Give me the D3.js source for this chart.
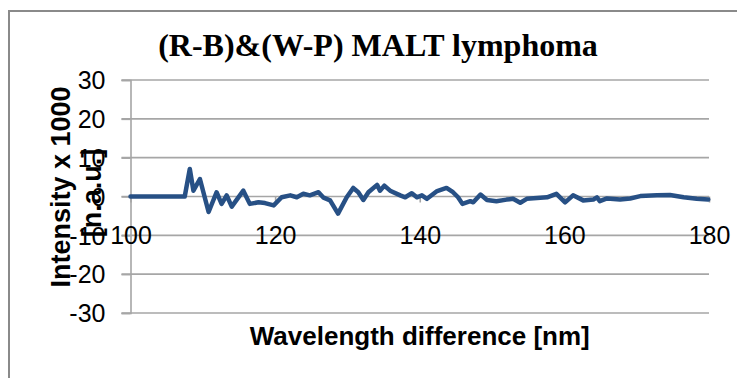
<!DOCTYPE html>
<html>
<head>
<meta charset="utf-8">
<script src="https://cdn.jsdelivr.net/npm/d3@7"></script>
<style>
  html, body { margin: 0; padding: 0; background: #fff; }
  svg { display: block; }
</style>
</head>
<body>
<svg id="chart" width="737" height="378"></svg>
<script>
// Difference spectrum (R-B)&(W-P), MALT lymphoma
const wavelengthDiff = [
  100, 102, 104, 106, 107.5, 108.2, 108.7, 109.6, 110.8, 111.9, 112.6, 113.3, 114.0,
  115.6, 116.5, 117.7, 118.6, 119.8, 120.9, 122.1, 123.0, 123.9, 124.8, 126.0, 126.7,
  127.6, 128.7, 129.9, 130.8, 131.5, 132.2, 132.9, 134.1, 134.5, 135.1, 135.9, 137.3,
  138.0, 138.9, 139.6, 140.3, 141.0, 142.4, 143.7, 144.6, 145.3, 145.9, 147.0, 147.4,
  148.4, 149.3, 150.6, 152.0, 152.9, 153.9, 154.8, 156.2, 157.6, 158.9, 160.1, 161.2,
  162.6, 164.0, 164.5, 164.9, 165.9, 167.7, 169.1, 170.5, 172.8, 174.6, 176.5, 178.3, 179.9
];
const intensity = [
  0, 0, 0, 0, 0, 7.1, 1.5, 4.5, -4.0, 1.1, -1.9, 0.3, -2.6,
  1.5, -1.9, -1.5, -1.7, -2.3, -0.2, 0.3, -0.2, 0.7, 0.3, 1.1, -0.3,
  -1.0, -4.4, -0.2, 2.2, 1.1, -0.9, 1.1, 3.0, 1.5, 2.8, 1.5, 0.3,
  -0.2, 0.85, -0.2, 0.3, -0.6, 1.4, 2.2, 1.1, -0.2, -1.9, -1.2, -1.5,
  0.5, -0.9, -1.2, -0.8, -0.6, -1.6, -0.6, -0.4, -0.2, 0.7, -1.5, 0.3,
  -1.0, -0.8, -0.2, -1.2, -0.5, -0.8, -0.5, 0.1, 0.3, 0.4, -0.2, -0.6, -0.8
];
const xTicks = [100, 120, 140, 160, 180];
const yTicks = [-30, -20, -10, 0, 10, 20, 30];

const chartTitle = "(R-B)&(W-P) MALT lymphoma";
const xTitle = "Wavelength difference [nm]";
const yTitleLines = ["Intensity x 1000", "[n.a.u.]"];

const svg = d3.select("#chart");

// outer chart frame
svg.append("rect")
  .attr("x", 9).attr("y", 11)
  .attr("width", 740).attr("height", 380)
  .attr("fill", "#fff")
  .attr("stroke", "#8a8a8a")
  .attr("stroke-width", 2);

const plot = { left: 130.5, right: 709, top: 80, bottom: 313 };

const x = d3.scaleLinear().domain([100, 180]).range([plot.left, plot.right]);
const y = d3.scaleLinear().domain([-30, 30]).range([plot.bottom, plot.top]);

const gridColor = "#a6a6a6";
const plainNumber = d => String(d);   // keeps an ASCII hyphen for negatives

// horizontal gridlines
svg.append("g")
  .selectAll("line")
  .data(yTicks)
  .join("line")
  .attr("x1", plot.left - 9)
  .attr("x2", plot.right)
  .attr("y1", d => y(d))
  .attr("y2", d => y(d))
  .attr("stroke", gridColor)
  .attr("stroke-width", 1.6);

// vertical axis with labels
const yAxis = svg.append("g")
  .attr("transform", `translate(${plot.left},0)`)
  .call(d3.axisLeft(y).tickValues(yTicks).tickSize(9).tickFormat(plainNumber));
yAxis.select(".domain").attr("stroke", gridColor).attr("stroke-width", 1.6);
yAxis.selectAll(".tick line").attr("stroke", gridColor).attr("stroke-width", 1.6);
yAxis.selectAll(".tick text")
  .attr("font-family", "'Liberation Sans', Arial, sans-serif")
  .attr("font-size", 25)
  .attr("fill", "#000")
  .attr("x", -25)
  .attr("dy", "0.35em");

// horizontal axis: ticks on the zero line, labels on the -10 line
const xAxis = svg.append("g")
  .attr("transform", `translate(0,${y(0)})`)
  .call(d3.axisBottom(x).tickValues(xTicks).tickSize(6).tickFormat(plainNumber));
xAxis.select(".domain").remove();
xAxis.selectAll(".tick line").attr("stroke", gridColor).attr("stroke-width", 1.6);
xAxis.selectAll(".tick text")
  .attr("font-family", "'Liberation Sans', Arial, sans-serif")
  .attr("font-size", 25)
  .attr("fill", "#000")
  .attr("y", y(-10) - y(0))
  .attr("dy", "0.36em");

// data line
const line = d3.line()
  .x((d, i) => x(wavelengthDiff[i]))
  .y(d => y(d));

svg.append("path")
  .datum(intensity)
  .attr("d", line)
  .attr("fill", "none")
  .attr("stroke", "#275085")
  .attr("stroke-width", 4.5)
  .attr("stroke-linejoin", "round")
  .attr("stroke-linecap", "round");

// chart title
svg.append("text")
  .attr("x", 378).attr("y", 56)
  .attr("text-anchor", "middle")
  .attr("font-family", "'Liberation Serif', 'Times New Roman', serif")
  .attr("font-weight", "bold")
  .attr("font-size", 32)
  .attr("fill", "#000")
  .text(chartTitle);

// x axis title
svg.append("text")
  .attr("x", (plot.left + plot.right) / 2).attr("y", 345)
  .attr("text-anchor", "middle")
  .attr("font-family", "'Liberation Sans', Arial, sans-serif")
  .attr("font-weight", "bold")
  .attr("font-size", 26)
  .attr("fill", "#000")
  .text(xTitle);

// y axis title, two rotated lines
const yTitle = svg.append("g");
[[70, 187], [101, 193]].forEach((pos, i) => {
  yTitle.append("text")
    .attr("transform", `translate(${pos[0]},${pos[1]}) rotate(-90)`)
    .attr("text-anchor", "middle")
    .attr("font-family", "'Liberation Sans', Arial, sans-serif")
    .attr("font-weight", "bold")
    .attr("font-size", 27)
    .attr("fill", "#000")
    .text(yTitleLines[i]);
});
</script>
</body>
</html>
